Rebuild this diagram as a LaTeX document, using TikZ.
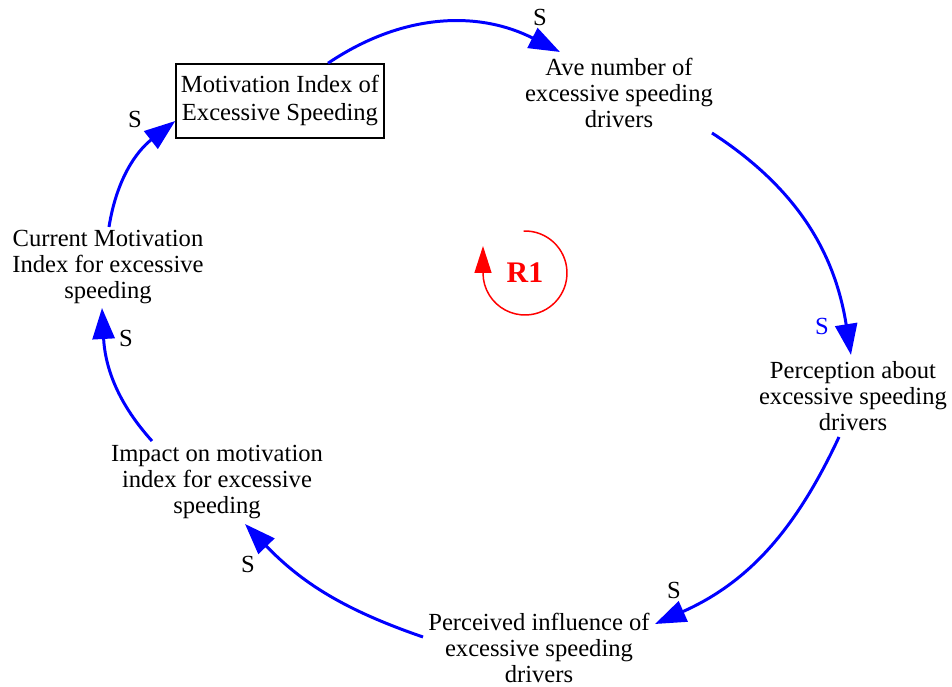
\documentclass[tikz,border=0pt]{standalone}
\usepackage{fontspec}
\setmainfont{Liberation Serif}
\usepackage{tikz}
\usetikzlibrary{arrows.meta}
\definecolor{linkblue}{HTML}{0000FF}
\definecolor{loopred}{HTML}{FF0000}
\newcommand{\varfont}{\fontsize{14}{14.8}\selectfont}

\begin{document}
\begin{tikzpicture}[
    varnode/.style={align=center, font=\varfont, inner sep=0pt},
    levelbox/.style={rectangle, draw, line width=0.85pt, minimum width=4.16cm, minimum height=1.48cm, inner sep=0pt, font=\fontsize{14}{16}\selectfont},
    link/.style={draw=linkblue, line width=1.7pt, -{Triangle[length=0.62cm, width=0.44cm, fill=linkblue]}},
    polarity/.style={font=\varfont, inner sep=0pt},
    loopname/.style={font=\fontsize{17}{17}\selectfont\bfseries, text=loopred}
]
\useasboundingbox (0,0) rectangle (19.04,13.74);

% Variables
\node[levelbox] (motiv) at (5.60,11.72) {\raisebox{-2.5pt}{\begin{tabular}{@{}c@{}}Motivation Index of\\Excessive Speeding\end{tabular}}};
\node[varnode] (avenum) at (12.38,11.88) {Ave number of\\excessive speeding\\drivers};
\node[varnode] (percep) at (17.06,5.82) {Perception about\\excessive speeding\\drivers};
\node[varnode] (influence) at (10.78,0.78) {Perceived influence of\\excessive speeding\\drivers};
\node[varnode] (impact) at (4.34,4.10) {Impact on motivation\\index for excessive\\speeding};
\node[varnode] (current) at (2.16,8.40) {Current Motivation\\Index for excessive\\speeding};

% Links
\draw[link] ([xshift=0.96cm]motiv.north) to[out=34, in=153] ([shift={(-1.18,0.82)}]avenum.center);
\draw[link] ([shift={(1.86,-0.80)}]avenum.center) to[out=-33, in=99] ([shift={(-0.04,0.82)}]percep.center);
\draw[link] ([shift={(-0.28,-0.82)}]percep.center) to[out=-115, in=24] ([shift={(2.32,0.48)}]influence.center);
\draw[link] ([shift={(-2.32,0.22)}]influence.center) to[out=161, in=-46] ([shift={(0.56,-0.84)}]impact.center);
\draw[link] ([shift={(-1.30,0.82)}]impact.center) to[out=132, in=-87] ([shift={(-0.12,-0.82)}]current.center);
\draw[link] ([shift={(0.02,0.80)}]current.center) to[out=81, in=218] ([yshift=-0.40cm]motiv.west);

% Polarities
\node[polarity] (s1) at (10.80,13.40) {S};
\node[polarity, text=linkblue] (s2) at (16.44,7.22) {S};
\node[polarity] (s3) at (13.48,1.94) {S};
\node[polarity] (s4) at (4.96,2.46) {S};
\node[polarity] (s5) at (2.52,6.98) {S};
\node[polarity] (s6) at (2.70,11.36) {S};

% Loop
\node[loopname] (r1) at (10.50,8.28) {R1};
\draw[loopred, line width=0.85pt, -{Triangle[length=0.54cm, width=0.34cm]}] ([shift={(92:0.84)}]r1.center) arc[start angle=92, end angle=-180, radius=0.84] -- ++(0,0.54);

\end{tikzpicture}
\end{document}
